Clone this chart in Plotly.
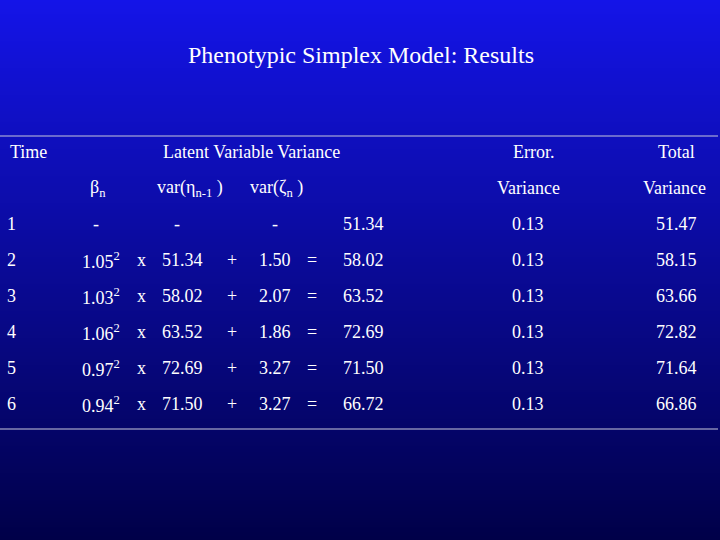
import numpy as np
import plotly.graph_objects as go

# table values
times = ["1", "2", "3", "4", "5", "6"]
betas = ["-", "1.05", "1.03", "1.06", "0.97", "0.94"]
prev_var = ["-", "51.34", "58.02", "63.52", "72.69", "71.50"]
innov = ["-", "1.50", "2.07", "1.86", "3.27", "3.27"]
latent = ["51.34", "58.02", "63.52", "72.69", "71.50", "66.72"]
error = ["0.13", "0.13", "0.13", "0.13", "0.13", "0.13"]
total = ["51.47", "58.15", "63.66", "72.82", "71.64", "66.86"]

FONT = "Liberation Serif, Times New Roman, serif"
W, H = 720, 540

fig = go.Figure()

# vertical gradient background
grad = np.linspace(0, 1, 100).reshape(-1, 1)
fig.add_trace(go.Heatmap(
    z=np.hstack([grad, grad]), x=[0, W], y=np.linspace(0, H, 100),
    colorscale=[[0, "rgb(20,20,232)"], [0.5, "rgb(10,10,150)"], [1, "rgb(0,0,72)"]],
    showscale=False, hoverinfo="skip", zsmooth="best",
))

ann = []


def txt(x, y, s, anchor="left", size=18):
    ann.append(dict(x=x, y=y, text=s, xanchor=anchor, yanchor="middle", showarrow=False,
                    font=dict(family=FONT, size=size, color="white")))


txt(361, 55, "Phenotypic Simplex Model: Results", "center", 24)
txt(8, 152, "Time")
txt(251, 152, "Latent Variable Variance", "center")
txt(533, 152, "Error.", "center")
txt(676, 152, "Total", "center")
txt(88, 188, "β<sub>n</sub>")
txt(155, 188, "var(η<sub>n-1</sub> )")
txt(248, 188, "var(ζ<sub>n</sub> )")
txt(528, 188, "Variance", "center")
txt(674, 188, "Variance", "center")

for i, t in enumerate(times):
    y = 224 + 36 * i
    txt(5, y, t)
    if betas[i] == "-":
        txt(96, y, "-", "center")
        txt(177, y, "-", "center")
        txt(275, y, "-", "center")
    else:
        txt(80, y, betas[i] + "<sup>2</sup>")
        txt(141, y, "x", "center")
        txt(160, y, prev_var[i])
        txt(232, y, "+", "center")
        txt(257, y, innov[i])
        txt(312, y, "=", "center")
    txt(363, y, latent[i], "center")
    txt(528, y, error[i], "center")
    txt(676, y, total[i], "center")

shapes = [
    dict(type="line", x0=0, x1=718, y0=136, y1=136, line=dict(color="rgb(200,200,220)", width=1)),
    dict(type="line", x0=0, x1=718, y0=429, y1=429, line=dict(color="rgb(200,200,220)", width=1)),
]

fig.update_layout(
    width=W, height=H, margin=dict(l=0, r=0, t=0, b=0),
    xaxis=dict(range=[0, W], visible=False, fixedrange=True),
    yaxis=dict(range=[H, 0], visible=False, fixedrange=True),
    annotations=ann, shapes=shapes, showlegend=False,
    paper_bgcolor="rgb(10,10,150)", plot_bgcolor="rgb(10,10,150)",
)
fig.write_html("out.html", config=dict(displayModeBar=False),
               post_script="document.body.style.margin='0';document.body.style.overflow='hidden';")
